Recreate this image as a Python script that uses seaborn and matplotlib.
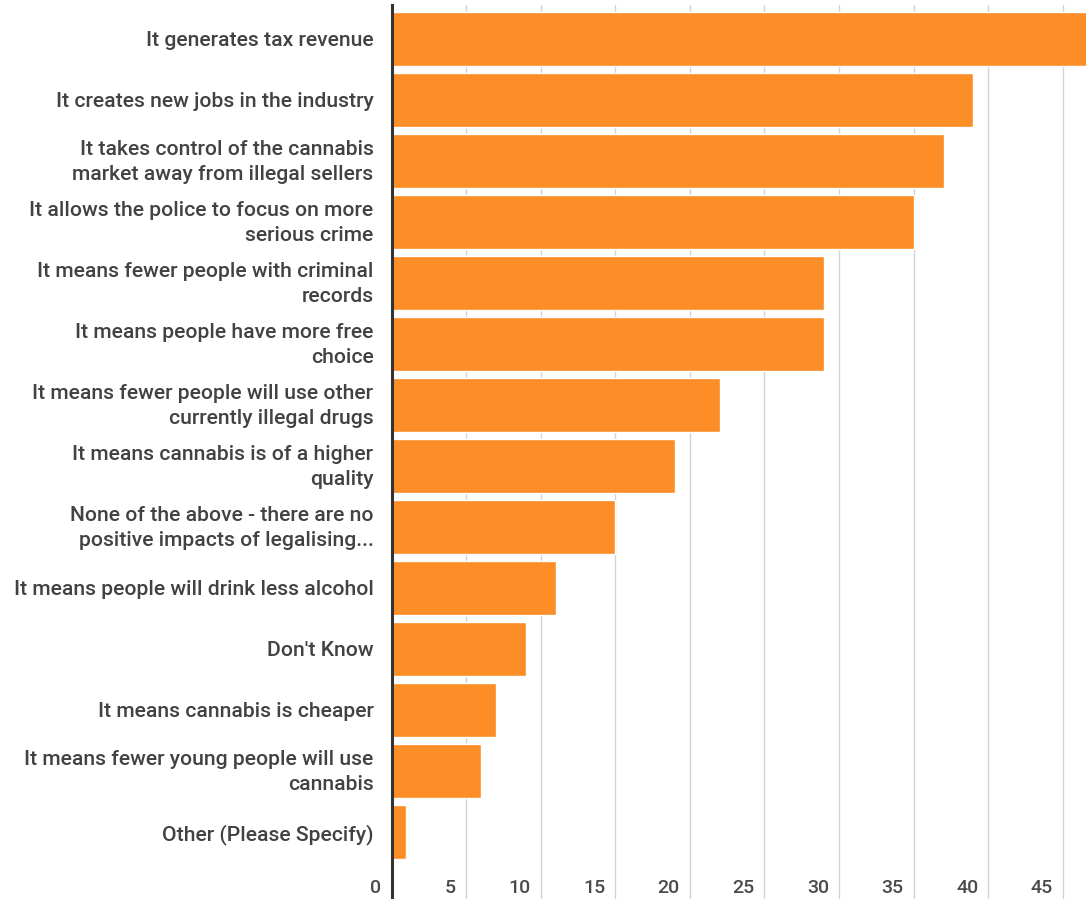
import matplotlib
matplotlib.use("Agg")
import matplotlib.pyplot as plt
import matplotlib.transforms as mtransforms
import seaborn as sns
import pandas as pd

reasons = [
    "It generates tax revenue",
    "It creates new jobs in the industry",
    "It takes control of the cannabis\nmarket away from illegal sellers",
    "It allows the police to focus on more\nserious crime",
    "It means fewer people with criminal\nrecords",
    "It means people have more free\nchoice",
    "It means fewer people will use other\ncurrently illegal drugs",
    "It means cannabis is of a higher\nquality",
    "None of the above - there are no\npositive impacts of legalising...",
    "It means people will drink less alcohol",
    "Don't Know",
    "It means cannabis is cheaper",
    "It means fewer young people will use\ncannabis",
    "Other (Please Specify)",
]
percent = [49, 39, 37, 35, 29, 29, 22, 19, 15, 11, 9, 7, 6, 1]
x_ticks = [0, 5, 10, 15, 20, 25, 30, 35, 40, 45]

df = pd.DataFrame({"reason": reasons, "percent": percent})

sns.set_theme(style="white")
plt.rcParams["font.family"] = ["Roboto", "DejaVu Sans"]

fig = plt.figure(figsize=(10.86, 8.99), dpi=100)
ax = fig.add_axes([391.5 / 1086, 0.0, 1 - 391.5 / 1086, 1 - 5 / 899])

sns.barplot(data=df, y="reason", x="percent", orient="h", color="#FD8D26",
            saturation=1, width=0.89, ax=ax)

ax.set_xlim(0, 46.55)
ax.set_ylim(14.1, -0.557)

# vertical gridlines through the full height, including the tick-label band
for t in x_ticks[1:]:
    ax.axvline(t, color="#d4d4d4", lw=1.0, zorder=0)

for s in ["top", "right", "bottom"]:
    ax.spines[s].set_visible(False)
ax.spines["left"].set_color("#333333")
ax.spines["left"].set_linewidth(2.2)
ax.spines["left"].set_zorder(5)

ax.set_xticks([])
ax.set_xlabel("")
ax.set_ylabel("")
ax.tick_params(axis="y", length=0, pad=13.0, labelsize=15.2, labelcolor="#424242")
lift = mtransforms.ScaledTranslation(0, 4 / 100, fig.dpi_scale_trans)
for lbl in ax.get_yticklabels():
    lbl.set_linespacing(1.4)
    lbl.set_fontweight("medium")
    lbl.set_horizontalalignment("right")
    if "\n" in lbl.get_text():
        lbl.set_transform(lbl.get_transform() + lift)

# numeric labels sit inside the plot, just left of each gridline
trans = mtransforms.blended_transform_factory(ax.transData, ax.transAxes)
offset = mtransforms.ScaledTranslation(-10 / 100, 0, fig.dpi_scale_trans)
for t in x_ticks:
    ax.text(t, 0.0123, str(t), transform=trans + offset, ha="right", va="center",
            fontsize=14, fontweight="medium", color="#4a4a4a")

fig.savefig("out.png", dpi=100)
